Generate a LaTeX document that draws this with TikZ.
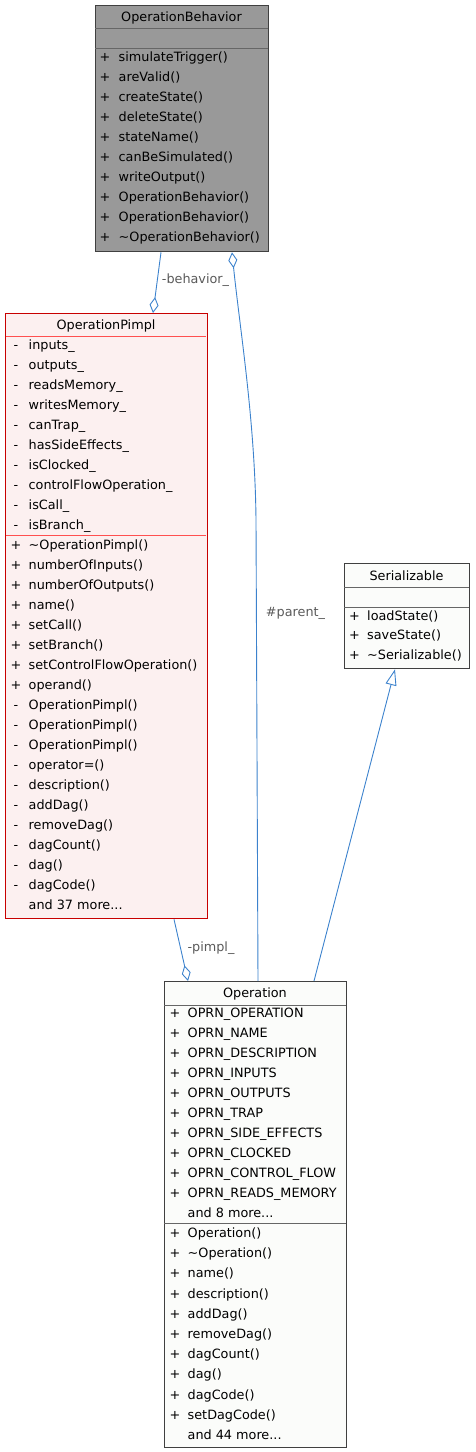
\documentclass[tikz,border=0pt]{standalone}
\usepackage{fontspec}
\setmainfont{DejaVu Sans}
\usetikzlibrary{arrows.meta}
\newcommand\mytdots{...}
\definecolor{behfill}{HTML}{999999}
\definecolor{darkborder}{HTML}{404040}
\definecolor{sepgray}{HTML}{666666}
\definecolor{pimfill}{HTML}{FCF0F0}
\definecolor{pimborder}{HTML}{C80000}
\definecolor{pimsep}{HTML}{FF5050}
\definecolor{opfill}{HTML}{FBFCFA}
\definecolor{edgeblue}{HTML}{3C82CD}
\definecolor{labelgray}{HTML}{5A5A5A}
\begin{document}
\begin{tikzpicture}[x=1pt,y=-1pt,
  classbox/.style={rectangle, inner sep=0pt, anchor=north west, line width=1.3pt},
  title/.style={anchor=base, inner sep=0pt, font=\fontsize{12.8}{15}\selectfont},
  mem/.style={anchor=base west, inner sep=0pt, font=\fontsize{12.8}{15}\selectfont},
  sym/.style={anchor=base, inner sep=0pt, font=\fontsize{12.8}{15}\selectfont},
  sepline/.style={line width=0.9pt},
  edge/.style={draw=edgeblue, line width=0.9pt},
  elabel/.style={inner sep=0pt, text=labelgray, font=\fontsize{12.8}{15}\selectfont}
]
\useasboundingbox (0,0) rectangle (475,1452);

% ---------------- OperationBehavior ----------------
\node[classbox, fill=behfill, draw=darkborder, minimum width=173pt, minimum height=246pt] (beh) at (95,5) {};
\draw[sepline, sepgray] (95,28) -- (268,28);
\draw[sepline, sepgray] (95,48) -- (268,48);
\node[title] (behT) at (181.5,21) {OperationBehavior};
\foreach \t [count=\i from 0] in {simulateTrigger(), areValid(), createState(), deleteState(), stateName(), canBeSimulated(), writeOutput(), OperationBehavior(), OperationBehavior(), \textasciitilde OperationBehavior()}{
  \node[sym] (behS\i) at (105,{61.5+20*\i}) {+};
  \node[mem] (behM\i) at (118.5,{61.5+20*\i}) {\t};
}

% ---------------- OperationPimpl ----------------
\node[classbox, fill=pimfill, draw=pimborder, minimum width=202pt, minimum height=605pt] (pim) at (5,313) {};
\draw[sepline, pimsep] (5.6,336) -- (206.4,336);
\draw[sepline, pimsep] (5.6,535) -- (206.4,535);
\node[title] (pimT) at (106,329) {OperationPimpl};
\foreach \t [count=\i from 0] in {inputs\_, outputs\_, readsMemory\_, writesMemory\_, canTrap\_, hasSideEffects\_, isClocked\_, controlFlowOperation\_, isCall\_, isBranch\_}{
  \node[sym] (pimAS\i) at (16,{349.5+20*\i}) {-};
  \node[mem] (pimA\i) at (28.5,{349.5+20*\i}) {\t};
}
\foreach \s/\t [count=\i from 0] in {+/\textasciitilde OperationPimpl(), +/numberOfInputs(), +/numberOfOutputs(), +/name(), +/setCall(), +/setBranch(), +/setControlFlowOperation(), +/operand(), -/OperationPimpl(), -/OperationPimpl(), -/OperationPimpl(), -/operator=(), -/description(), -/addDag(), -/removeDag(), -/dagCount(), -/dag(), -/dagCode(), /and 37 more\mytdots}{
  \node[sym] (pimMS\i) at (16,{549.5+20*\i}) {\s};
  \node[mem] (pimM\i) at (28.5,{549.5+20*\i}) {\t};
}

% ---------------- Serializable ----------------
\node[classbox, fill=opfill, draw=darkborder, minimum width=125pt, minimum height=105pt] (ser) at (344,563) {};
\draw[sepline, sepgray] (344,587) -- (469,587);
\draw[sepline, sepgray] (344,607) -- (469,607);
\node[title] (serT) at (406.5,580) {Serializable};
\foreach \t [count=\i from 0] in {loadState(), saveState(), \textasciitilde Serializable()}{
  \node[sym] (serS\i) at (354.5,{620.5+19.3*\i}) {+};
  \node[mem] (serM\i) at (367,{620.5+19.3*\i}) {\t};
}

% ---------------- Operation ----------------
\node[classbox, fill=opfill, draw=darkborder, minimum width=182pt, minimum height=466pt] (op) at (164,981) {};
\draw[sepline, sepgray] (164,1005) -- (346,1005);
\draw[sepline, sepgray] (164,1223) -- (346,1223);
\node[title] (opT) at (255,997.5) {Operation};
\foreach \s/\t [count=\i from 0] in {+/OPRN\_OPERATION, +/OPRN\_NAME, +/OPRN\_DESCRIPTION, +/OPRN\_INPUTS, +/OPRN\_OUTPUTS, +/OPRN\_TRAP, +/OPRN\_SIDE\_EFFECTS, +/OPRN\_CLOCKED, +/OPRN\_CONTROL\_FLOW, +/OPRN\_READS\_MEMORY, /and 8 more\mytdots}{
  \node[sym] (opAS\i) at (175,{1017.5+20*\i}) {\s};
  \node[mem] (opA\i) at (187.5,{1017.5+20*\i}) {\t};
}
\foreach \s/\t [count=\i from 0] in {+/Operation(), +/\textasciitilde Operation(), +/name(), +/description(), +/addDag(), +/removeDag(), +/dagCount(), +/dag(), +/dagCode(), +/setDagCode(), /and 44 more\mytdots}{
  \node[sym] (opMS\i) at (175,{1237.5+20.2*\i}) {\s};
  \node[mem] (opM\i) at (187.5,{1237.5+20.2*\i}) {\t};
}

% ---------------- Connectors ----------------
% behavior_ : OperationPimpl has OperationBehavior
\draw[edge, -{Diamond[open, length=16pt, width=9pt]}]
  ([xshift=66pt]beh.south west) -- ([xshift=148pt]pim.north west);
\node[elabel] (lbeh) at (195.5,280) {-behavior\_};

% parent_ : OperationBehavior has Operation
\draw[edge, {Diamond[open, length=16pt, width=9pt]}-]
  ([xshift=137pt]beh.south west) .. controls (240,330) and (255,420) .. (256,520) -- ([xshift=94pt]op.north west);
\node[elabel] (lpar) at (295.5,613) {\#parent\_};

% pimpl_ : Operation has OperationPimpl
\draw[edge, -{Diamond[open, length=16pt, width=9pt]}]
  ([xshift=169pt]pim.south west) -- ([xshift=24pt]op.north west);
\node[elabel] (lpim) at (211,948) {-pimpl\_};

% inheritance: Operation -> Serializable
\draw[edge, -{Triangle[open, length=16pt, width=11pt]}]
  ([xshift=150pt]op.north west) -- ([xshift=51pt]ser.south west);

\end{tikzpicture}
\end{document}
